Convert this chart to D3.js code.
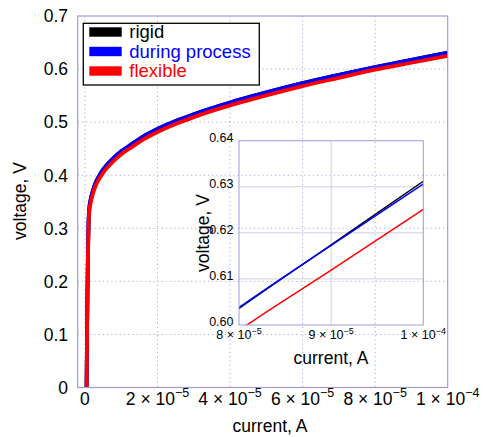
<!DOCTYPE html>
<html><head><meta charset="utf-8">
<script src="https://cdn.jsdelivr.net/npm/d3@7"></script>
<style>
html,body{margin:0;padding:0;background:#fff;}
svg{display:block;font-family:"Liberation Sans",Arial,Helvetica,sans-serif;}
</style></head>
<body>
<svg id="chart" width="489" height="437"></svg>
<script>
// ---- data ----
const current = [4.5e-7, 6e-7, 8e-7, 1.0e-6, 1.2e-6, 1.6e-6, 2.2e-6, 3e-6, 4.2e-6, 5.5e-6, 7.5e-6, 1e-5, 1.3e-5, 1.6e-5, 2e-5, 2.5e-5, 3e-5, 4e-5, 5e-5, 6e-5, 7e-5, 8e-5, 9e-5, 1e-4];
const rigid   = [0, 0.123, 0.243, 0.313, 0.338, 0.355, 0.371, 0.387, 0.402, 0.415, 0.430, 0.445, 0.459, 0.4725, 0.487, 0.502, 0.515, 0.537, 0.556, 0.5735, 0.589, 0.6036, 0.6174, 0.6312];
const during  = [0, 0.123, 0.243, 0.313, 0.338, 0.355, 0.371, 0.387, 0.402, 0.415, 0.430, 0.445, 0.459, 0.4725, 0.487, 0.502, 0.515, 0.537, 0.556, 0.5735, 0.589, 0.6038, 0.6173, 0.6306];
const flexible= [0, 0.117, 0.237, 0.307, 0.332, 0.349, 0.365, 0.381, 0.396, 0.409, 0.424, 0.4395, 0.4535, 0.467, 0.4815, 0.4965, 0.5095, 0.5315, 0.5505, 0.568, 0.5835, 0.5988, 0.6119, 0.6251];
const seriesNames = ["rigid", "during process", "flexible"];
const seriesColors = ["#000000", "#0000ff", "#ff0000"];
const mainXTicks = [0, 2e-5, 4e-5, 6e-5, 8e-5, 1e-4];
const mainXTickLabels = [["0",""], ["2 × 10","−5"], ["4 × 10","−5"], ["6 × 10","−5"], ["8 × 10","−5"], ["1 × 10","−4"]];
const mainYTicks = [0, 0.1, 0.2, 0.3, 0.4, 0.5, 0.6, 0.7];
const mainYTickLabels = ["0", "0.1", "0.2", "0.3", "0.4", "0.5", "0.6", "0.7"];
const insetXTicks = [8e-5, 9e-5, 1e-4];
const insetXTickLabels = [["8 × 10","−5"], ["9 × 10","−5"], ["1 × 10","−4"]];
const insetYTicks = [0.60, 0.61, 0.62, 0.63, 0.64];
const insetYTickLabels = ["0.60", "0.61", "0.62", "0.63", "0.64"];

const allSeries = [rigid, during, flexible].map((vals, i) => ({
  name: seriesNames[i], color: seriesColors[i],
  pts: current.map((c, j) => [c, vals[j]])
}));

const svg = d3.select("#chart");
const frameColor = "#9c9cdc";
const gridColor = "#a8a8e4";

// ---- main plot ----
const L = 77.7, R = 447.7, T = 16, B = 387.5;
const x = d3.scaleLinear().domain([-2e-6, 1e-4]).range([L, R]);
const y = d3.scaleLinear().domain([0, 0.7]).range([B, T]);

const defs = svg.append("defs");
defs.append("clipPath").attr("id", "mainClip").append("rect")
  .attr("x", L).attr("y", T).attr("width", R - L).attr("height", B - T);

const grid = svg.append("g");
grid.selectAll(".gx").data(mainXTicks.slice(0, -1)).join("line")
  .attr("x1", d => x(d)).attr("x2", d => x(d)).attr("y1", T).attr("y2", B)
  .attr("stroke", gridColor).attr("stroke-width", 1).attr("stroke-dasharray", "1.2,3");
grid.selectAll(".gy").data(mainYTicks.slice(1, -1)).join("line")
  .attr("y1", d => y(d)).attr("y2", d => y(d)).attr("x1", L).attr("x2", R)
  .attr("stroke", gridColor).attr("stroke-width", 1).attr("stroke-dasharray", "1.2,3");

// ---- inset geometry ----
const iL = 239, iR = 423.3, iT = 140.7, iB = 325;
const xi = d3.scaleLinear().domain([8e-5, 1e-4]).range([iL, iR]);
const yi = d3.scaleLinear().domain([0.60, 0.64]).range([iB, iT]);
defs.append("clipPath").attr("id", "insetClip").append("rect")
  .attr("x", iL).attr("y", iT).attr("width", iR - iL).attr("height", iB - iT);

// main curves
const lineMain = d3.line().x(d => x(d[0])).y(d => y(d[1])).curve(d3.curveMonotoneX);
svg.append("g").attr("clip-path", "url(#mainClip)")
  .selectAll("path").data(allSeries).join("path")
  .attr("d", d => lineMain(d.pts)).attr("fill", "none")
  .attr("stroke", d => d.color).attr("stroke-width", 3.8)
  .attr("stroke-linejoin", "round");

// main frame
svg.append("rect").attr("x", L).attr("y", T).attr("width", R - L).attr("height", B - T)
  .attr("fill", "none").attr("stroke", frameColor).attr("stroke-width", 1.2);

// main tick labels
function supLabel(sel, parts, size, supSize, supDy) {
  sel.text(null);
  sel.append("tspan").text(parts[0]);
  if (parts[1]) sel.append("tspan").attr("dy", supDy).attr("font-size", supSize).text(parts[1]);
}
svg.append("g").selectAll("text").data(mainXTicks).join("text")
  .attr("x", d => x(d)).attr("y", 404.5).attr("text-anchor", "middle")
  .attr("font-size", 17.5).attr("fill", "#000")
  .each(function(d, i){ supLabel(d3.select(this), mainXTickLabels[i], 17.5, 12.5, -7.5); });
svg.append("g").selectAll("text").data(mainYTicks).join("text")
  .attr("x", 68).attr("y", d => y(d) + 6.3).attr("text-anchor", "end")
  .attr("font-size", 17.5).attr("fill", "#000")
  .text((d, i) => mainYTickLabels[i]);

svg.append("text").attr("x", 270).attr("y", 432).attr("text-anchor", "middle")
  .attr("font-size", 17.5).text("current, A");
svg.append("text").attr("transform", "translate(26,201) rotate(-90)")
  .attr("text-anchor", "middle").attr("font-size", 17.5).text("voltage, V");

// ---- legend ----
const lg = svg.append("g");
lg.append("rect").attr("x", 83.3).attr("y", 23.3).attr("width", 176).attr("height", 61.7)
  .attr("fill", "#fff").attr("stroke", "#000").attr("stroke-width", 1.3);
allSeries.forEach((s, i) => {
  const cy = 32 + i * 19.5;
  lg.append("rect").attr("x", 89.3).attr("y", cy - 4.7).attr("width", 32.4).attr("height", 9.4)
    .attr("fill", s.color);
  lg.append("text").attr("x", 129.3).attr("y", cy + 6.4).attr("font-size", 18.5)
    .attr("fill", s.color).text(s.name);
});

// ---- inset ----
const ig = svg.append("g");
ig.selectAll(".igx").data(insetXTicks.slice(1, -1)).join("line")
  .attr("x1", d => xi(d)).attr("x2", d => xi(d)).attr("y1", iT).attr("y2", iB)
  .attr("stroke", "#cfcfe0").attr("stroke-width", 1);
ig.selectAll(".igy").data(insetYTicks.slice(1, -1)).join("line")
  .attr("y1", d => yi(d)).attr("y2", d => yi(d)).attr("x1", iL).attr("x2", iR)
  .attr("stroke", "#cfcfe0").attr("stroke-width", 1);
const lineInset = d3.line().x(d => xi(d[0])).y(d => yi(d[1])).curve(d3.curveMonotoneX);
ig.append("g").attr("clip-path", "url(#insetClip)")
  .selectAll("path").data(allSeries).join("path")
  .attr("d", d => lineInset(d.pts)).attr("fill", "none")
  .attr("stroke", d => d.color).attr("stroke-width", 1.5);
ig.append("rect").attr("x", iL).attr("y", iT).attr("width", iR - iL).attr("height", iB - iT)
  .attr("fill", "none").attr("stroke", frameColor).attr("stroke-width", 1);
ig.selectAll(".itx").data(insetXTicks).join("text")
  .attr("x", d => xi(d)).attr("y", 339).attr("text-anchor", "middle")
  .attr("font-size", 12.5)
  .each(function(d, i){ supLabel(d3.select(this), insetXTickLabels[i], 12.5, 9, -5); });
ig.selectAll(".ity").data(insetYTicks).join("text")
  .attr("x", 233.5).attr("y", d => yi(d) + 1.2).attr("text-anchor", "end")
  .attr("font-size", 12.5).text((d, i) => insetYTickLabels[i]);
ig.append("text").attr("x", 331).attr("y", 364).attr("text-anchor", "middle")
  .attr("font-size", 17.5).text("current, A");
ig.append("text").attr("transform", "translate(209,233) rotate(-90)")
  .attr("text-anchor", "middle").attr("font-size", 17.5).text("voltage, V");
</script>
</body></html>
